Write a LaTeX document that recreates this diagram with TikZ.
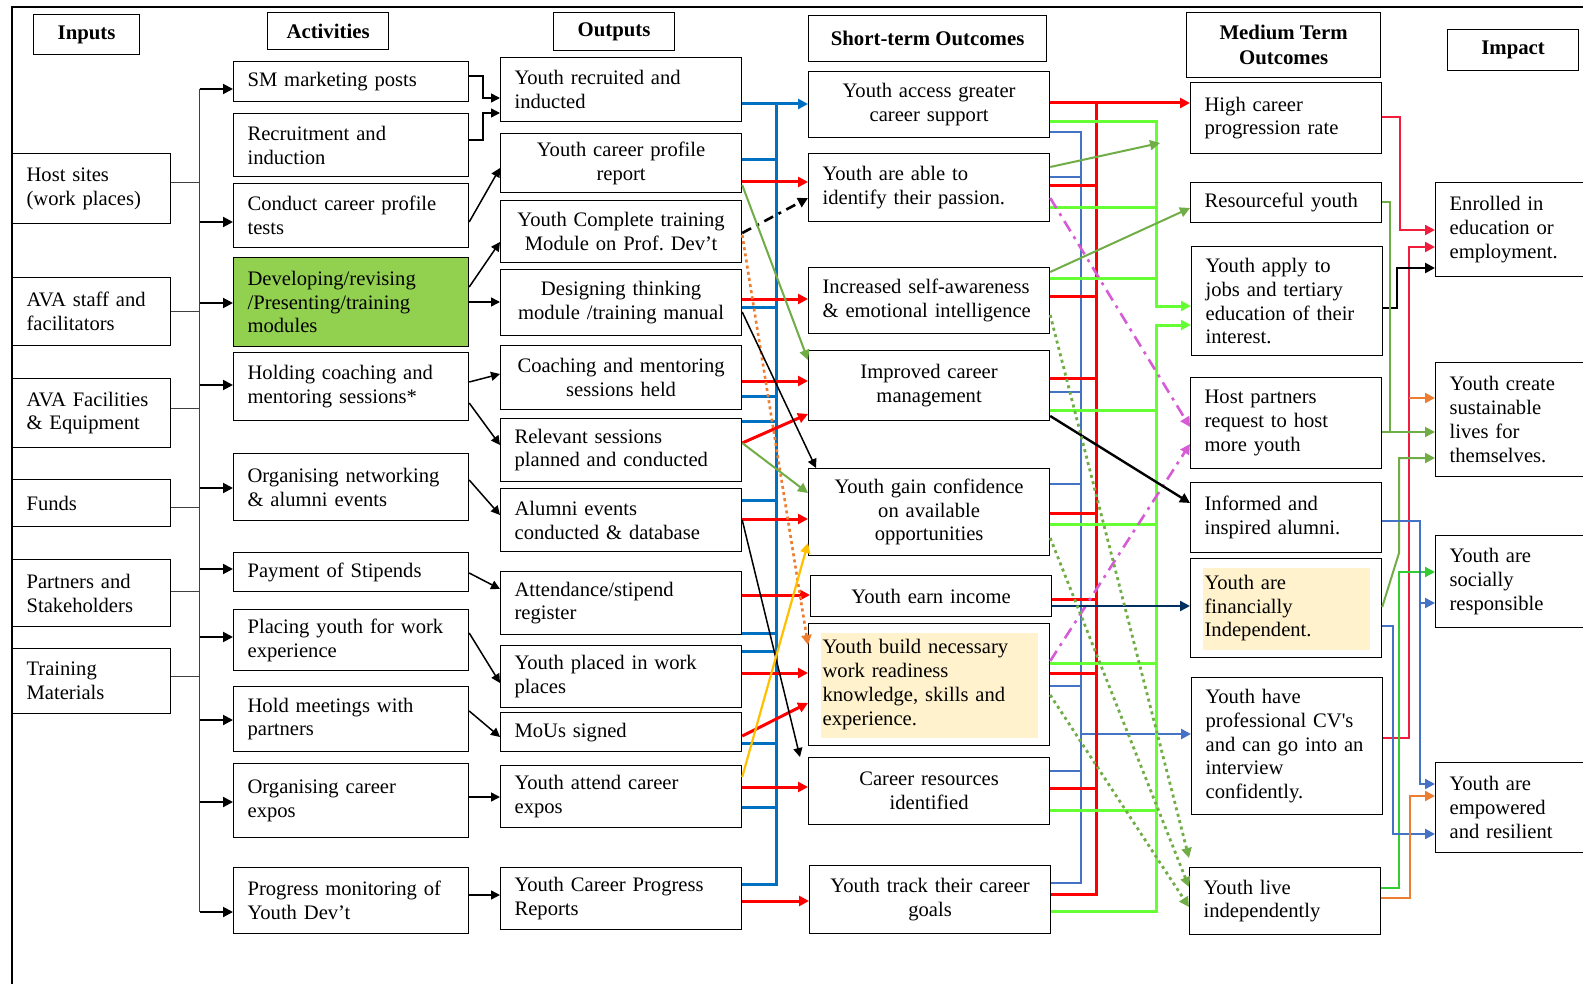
\documentclass[tikz,border=0pt]{standalone}
\usepackage{fontspec}
\setmainfont{Liberation Serif}
\usetikzlibrary{arrows.meta}
\definecolor{busblue}{RGB}{0,112,192}
\definecolor{lnblue}{RGB}{68,114,196}
\definecolor{lnred}{RGB}{255,0,0}
\definecolor{crimsonln}{RGB}{240,30,60}
\definecolor{limeln}{RGB}{102,255,51}
\definecolor{oliveln}{RGB}{112,173,71}
\definecolor{midgreen}{RGB}{51,204,51}
\definecolor{orangeln}{RGB}{237,125,49}
\definecolor{goldln}{RGB}{255,192,0}
\definecolor{orchidln}{RGB}{214,92,214}
\definecolor{navyln}{RGB}{0,48,96}
\definecolor{leaf}{RGB}{146,208,80}
\definecolor{cream}{RGB}{255,242,204}
\frenchspacing

\begin{document}
\begin{tikzpicture}[x=0.5pt,y=-0.5pt,line join=miter,
  >={Triangle[length=5pt,width=5pt]},
  every node/.style={font=\fontsize{10.3}{11.9}\selectfont},
  box/.style={draw,line width=0.6pt,anchor=north west,inner xsep=7pt,inner ysep=2pt,align=left},
  head/.style={draw,line width=0.6pt,anchor=north west,align=center,inner sep=1pt,font=\fontsize{10.4}{12.4}\selectfont\bfseries},
  inbox/.style={box,text width=65pt},
  actbox/.style={box,text width=103.5pt},
  outbox/.style={box,text width=106.5pt},
  stbox/.style={box,text width=106.5pt},
  mtbox/.style={box,text width=81.5pt},
  impbox/.style={box,text width=68.5pt},
  hl/.style={path picture={\fill[cream] ([shift={(12,9)}]path picture bounding box.north west) rectangle ([shift={(-12,-8)}]path picture bounding box.south east);}},
  feedline/.style={line width=0.5pt,black!75},
  feed/.style={->,line width=1pt},
  blk/.style={->,line width=0.75pt,>={Triangle[length=4.5pt,width=4.5pt]}},
  bus/.style={line width=1.5pt,busblue},
  rd/.style={line width=1.5pt,lnred},
  lb/.style={line width=1.3pt,lnblue},
  lg/.style={line width=1.5pt,limeln},
  ol/.style={line width=1pt,oliveln},
  gd/.style={->,line width=1.4pt,oliveln,dash pattern=on 1.5pt off 1.8pt},
  mg/.style={->,line width=1.3pt,orchidln,dash pattern=on 6pt off 3pt on 1.5pt off 3pt},
  cr/.style={line width=1.1pt,crimsonln},
  orl/.style={line width=1.1pt,orangeln}]
\useasboundingbox (0,0) rectangle (1583,984);
\draw[line width=1pt] (12,984) -- (12,7) -- (1583,7);

% headers
\node[head,minimum width=53pt,minimum height=20pt] (hin) at (33,14) {Inputs};
\node[head,minimum width=60.5pt,minimum height=18.5pt] (hact) at (267,12) {Activities};
\node[head,minimum width=60.5pt,minimum height=19pt] (hout) at (553,12) {Outputs};
\node[head,minimum width=119pt,minimum height=23pt] (hst) at (808,15) {Short-term Outcomes};
\node[head,minimum width=97pt,minimum height=32.5pt] (hmt) at (1186,12) {Medium Term\\Outcomes};
\node[head,minimum width=65.5pt,minimum height=20.5pt] (himp) at (1447,29) {Impact};

% inputs
\node[inbox,minimum height=35pt] (in1) at (12,153) {Host sites\\(work places)};
\node[inbox,minimum height=34pt] (in2) at (12,277) {AVA staff and\\facilitators};
\node[inbox,minimum height=34.5pt] (in3) at (12,378) {AVA Facilities\\\& Equipment};
\node[inbox,minimum height=23.5pt] (in4) at (12,479) {Funds};
\node[inbox,minimum height=33.5pt] (in5) at (12,559) {Partners and\\Stakeholders};
\node[inbox,minimum height=32.5pt] (in6) at (12,648) {Training\\Materials};

% activities
\node[actbox,minimum height=20pt] (a1) at (233,61) {SM marketing posts};
\node[actbox,minimum height=31.5pt] (a2) at (233,113) {Recruitment and\\induction};
\node[actbox,minimum height=32pt] (a3) at (233,183) {Conduct career profile\\tests};
\node[actbox,minimum height=44.5pt,fill=leaf] (a4) at (233,257) {Developing/revising\\/Presenting/training\\modules};
\node[actbox,minimum height=34pt] (a5) at (233,352) {Holding coaching and\\mentoring sessions*};
\node[actbox,minimum height=33.5pt] (a6) at (233,453) {Organising networking\\\& alumni events};
\node[actbox,minimum height=19.5pt] (a7) at (233,552) {Payment of Stipends};
\node[actbox,minimum height=30.5pt] (a8) at (233,609) {Placing youth for work\\experience};
\node[actbox,minimum height=32.5pt] (a9) at (233,686) {Hold meetings with\\partners};
\node[actbox,minimum height=37pt] (a10) at (233,763) {Organising career\\expos};
\node[actbox,minimum height=33pt] (a11) at (233,867) {Progress monitoring of\\Youth Dev’t};

% outputs
\node[outbox,minimum height=32pt] (o1) at (500,57) {Youth recruited and\\inducted};
\node[outbox,minimum height=29.5pt,align=center] (o2) at (500,133) {Youth career profile\\report};
\node[outbox,minimum height=31pt,align=center] (o3) at (500,200) {Youth Complete training\\Module on Prof. Dev’t};
\node[outbox,minimum height=33pt,align=center] (o4) at (500,269) {Designing thinking\\module /training manual};
\node[outbox,minimum height=32pt,align=center] (o5) at (500,345) {Coaching and mentoring\\sessions held};
\node[outbox,minimum height=31.5pt] (o6) at (500,418) {Relevant sessions\\planned and conducted};
\node[outbox,minimum height=31.5pt] (o7) at (500,488) {Alumni events\\conducted \& database};
\node[outbox,minimum height=31.5pt] (o8) at (500,571) {Attendance/stipend\\register};
\node[outbox,minimum height=31pt] (o9) at (500,645) {Youth placed in work\\places};
\node[outbox,minimum height=19.5pt] (o10) at (500,712) {MoUs signed};
\node[outbox,minimum height=31pt] (o11) at (500,765) {Youth attend career\\expos};
\node[outbox,minimum height=31pt] (o12) at (500,867) {Youth Career Progress\\Reports};

% short-term outcomes
\node[stbox,minimum height=33pt,align=center] (st1) at (808,71) {Youth access greater\\career support};
\node[stbox,minimum height=34pt] (st2) at (808,153) {Youth are able to\\identify their passion.};
\node[stbox,minimum height=33pt] (st3) at (808,267) {Increased self-awareness\\\& emotional intelligence};
\node[stbox,minimum height=35pt,align=center] (st4) at (808,350) {Improved career\\management};
\node[stbox,minimum height=43.5pt,align=center] (st5) at (808,468) {Youth gain confidence\\on available\\opportunities};
\node[stbox,minimum height=20.5pt,align=center] (st6) at (810,575) {Youth earn income};
\node[stbox,minimum height=61pt,hl] (st7) at (808,623) {Youth build necessary\\work readiness\\knowledge, skills and\\experience.};
\node[stbox,minimum height=33.5pt,align=center] (st8) at (808,757) {Career resources\\identified};
\node[stbox,minimum height=34pt,align=center] (st9) at (809,865) {Youth track their career\\goals};

% medium term outcomes
\node[mtbox,minimum height=35.5pt] (mt1) at (1190,82) {High career\\progression rate};
\node[mtbox,minimum height=20pt] (mt2) at (1190,182) {Resourceful youth};
\node[mtbox,minimum height=54.5pt] (mt3) at (1191,246) {Youth apply to\\jobs and tertiary\\education of their\\interest.};
\node[mtbox,minimum height=45.5pt] (mt4) at (1190,377) {Host partners\\request to host\\more youth};
\node[mtbox,minimum height=35pt] (mt5) at (1190,482) {Informed and\\inspired alumni.};
\node[mtbox,minimum height=49.5pt,hl] (mt6) at (1190,558) {Youth are\\financially\\Independent.};
\node[mtbox,minimum height=68.5pt] (mt7) at (1191,677) {Youth have\\professional CV\textquotesingle s\\and can go into an\\interview\\confidently.};
\node[mtbox,minimum height=33.5pt] (mt8) at (1189,867) {Youth live\\independently};

% impact
\node[impbox,minimum height=47pt] (im1) at (1435,182) {Enrolled in\\education or\\employment.};
\node[impbox,minimum height=57pt] (im2) at (1435,362) {Youth create\\sustainable\\lives for\\themselves.};
\node[impbox,minimum height=46pt] (im3) at (1435,535) {Youth are\\socially\\responsible};
\node[impbox,minimum height=45pt] (im4) at (1435,762) {Youth are\\empowered\\and resilient};

% inputs to activities
\coordinate (ibus) at (199.5,0);
\draw[feedline] (ibus |- 0,89) -- (ibus |- 0,912);
\foreach \n/\y in {in1/183,in2/311,in3/408,in4/507,in5/591,in6/676}
  \draw[feedline] (\n.east |- 0,\y) -- (ibus |- 0,\y);
\foreach \n/\y in {a1/89,a3/222,a4/303,a5/385,a6/488,a7/569,a8/637,a9/720,a10/802,a11/912}
  \draw[feed] (ibus |- 0,\y) -- (\n.west |- 0,\y);

% activities to outputs
\coordinate (jn) at (483,0);
\draw[blk] (a1.east |- 0,76) -| (jn |- 0,98) -- (o1.west |- 0,98);
\draw[blk] (a2.east |- 0,140) -| (jn |- 0,113) -- (o1.west |- 0,113);
\draw[blk] (a3.east |- 0,222) -- (o2.west |- 0,168);
\draw[blk] (a4.east |- 0,287) -- (o3.west |- 0,242);
\draw[blk] (a4.east |- 0,302) -- (o4.west |- 0,302);
\draw[blk] (a5.east |- 0,382) -- (o5.west |- 0,374);
\draw[blk] (a5.east |- 0,403) -- (o6.west |- 0,445);
\draw[blk] (a6.east |- 0,480) -- (o7.west |- 0,515);
\draw[blk] (a7.east |- 0,573) -- (o8.west |- 0,589);
\draw[blk] (a8.east |- 0,633) -- (o9.west |- 0,683);
\draw[blk] (a9.east |- 0,711) -- (o10.west |- 0,737);
\draw[blk] (a10.east |- 0,797) -- (o11.west |- 0,797);
\draw[blk] (a11.east |- 0,895) -- (o12.west |- 0,895);

% outputs to short-term outcomes
\coordinate (obus) at (776,0);
\draw[bus] (o12.east |- 0,884) -| (obus |- 0,104);
\foreach \n/\y in {o2/160,o4/307,o5/396,o6/421,o7/500,o8/633,o9/651,o10/743,o11/807}
  \draw[bus] (\n.east |- 0,\y) -- (obus |- 0,\y);
\draw[bus,->] (o1.east |- 0,104) -- (st1.west |- 0,104);
\foreach \a/\b/\y in {o2/st2/182,o4/st3/299,o5/st4/381,o7/st5/519,o8/st6/595,o9/st7/673,o11/st8/787,o12/st9/901}
  \draw[rd,->] (\a.east |- 0,\y) -- (\b.west |- 0,\y);
\draw[rd,->] (o6.east |- 0,443) -- (st4.west |- 0,414);
\draw[rd,->] (o10.east |- 0,736) -- (st7.west |- 0,703);
\draw[->,line width=1.3pt,dash pattern=on 5pt off 3pt on 1.5pt off 3pt] (o3.east |- 0,233) -- (st2.west |- 0,198);
\draw[->,line width=1.3pt,orangeln,dash pattern=on 1.5pt off 1.6pt] (o3.east |- 0,235) -- (st7.west |- 0,645);
\draw[ol,->] (o2.east |- 0,185) -- (st4.west |- 0,360);
\draw[ol,->] (o6.east |- 0,443) -- (st5.west |- 0,493);
\draw[blk] (o4.east |- 0,312) -- ([xshift=4pt]st5.north west);
\draw[blk] (o7.east |- 0,520) -- ([xshift=-4pt]st8.north west);
\draw[->,line width=1.1pt,goldln] (o11.east |- 0,777) -- (st5.west |- 0,543);

% short-term to medium term
\coordinate (bbus) at (1081,0);
\coordinate (rbus) at (1096,0);
\coordinate (gbus) at (1156,0);
\coordinate (mt1in) at (1160,143);
\draw[lb] (st1.east |- 0,132) -| (bbus |- 0,883) -- (st9.east |- 0,883);
\foreach \n/\y in {st2/177,st4/392,st5/484,st7/686,st8/771}
  \draw[lb] (\n.east |- 0,\y) -- (bbus |- 0,\y);
\draw[lb,->] (bbus |- 0,734) -- (mt7.west |- 0,734);
\draw[rd] (st9.east |- 0,894) -| (rbus |- 0,103);
\draw[rd,->] (st1.east |- 0,103) -- (mt1.west |- 0,103);
\foreach \n/\y in {st2/186,st3/296,st4/378,st5/513,st6/599,st7/673,st8/788}
  \draw[rd] (\n.east |- 0,\y) -- (rbus |- 0,\y);
\draw[lg,->] (st1.east |- 0,122) -| (gbus |- 0,306) -- (mt3.west |- 0,306);
\draw[lg,->] (st9.east |- 0,911) -| (gbus |- 0,325) -- (mt3.west |- 0,325);
\foreach \n/\y in {st2/208,st3/278,st4/410,st5/524,st7/663,st8/810}
  \draw[lg] (\n.east |- 0,\y) -- (gbus |- 0,\y);
\draw[ol,->] (st2.east |- 0,167) -- (mt1in);
\draw[ol,->] (st3.east |- 0,272) -- (mt2.west |- 0,208);
\draw[mg] (st2.east |- 0,198) -- (mt4.west |- 0,427);
\draw[mg] (st7.east |- 0,661) -- (mt4.west |- 0,444);
\draw[->,line width=1.2pt] (st4.east |- 0,416) -- (mt5.west |- 0,503);
\draw[->,line width=1.2pt,navyln] (st6.east |- 0,606) -- (mt6.west |- 0,606);
\draw[gd] (st3.east |- 0,315) -- (mt8.west |- 0,858);
\draw[gd] (st5.east |- 0,538) -- (mt8.west |- 0,887);
\draw[gd] (st7.east |- 0,695) -- (mt8.west |- 0,907);

% medium term to impact
\coordinate (xo) at (1390,0);
\coordinate (xb2) at (1393,0);
\coordinate (xk) at (1397,0);
\coordinate (xg) at (1399,0);
\coordinate (xr1) at (1400,0);
\coordinate (xr2) at (1409,0);
\coordinate (xor) at (1410,0);
\coordinate (xb1) at (1420,0);
\draw[cr,->] (mt1.east |- 0,117) -| (xr1 |- 0,230) -- (im1.west |- 0,230);
\draw[cr,->] (mt7.east |- 0,738) -| (xr2 |- 0,247) -- (im1.west |- 0,247);
\draw[->,line width=1.3pt] (mt3.east |- 0,308) -| (xk |- 0,268) -- (im1.west |- 0,268);
\draw[ol] (mt2.east |- 0,202) -| (xo |- 0,432);
\draw[ol,->] (mt4.east |- 0,432) -- (im2.west |- 0,432);
\draw[orl,->] (xr2 |- 0,398) -- (im2.west |- 0,398);
\draw[ol,->] (mt6.east |- 0,607) -- (xg |- 0,553) -- (xg |- 0,458) -- (im2.west |- 0,458);
\draw[->,line width=1.1pt,midgreen] (mt8.east |- 0,888) -| (xg |- 0,572) -- (im3.west |- 0,572);
\draw[lb,line width=1.1pt,->] (mt5.east |- 0,521) -| (xb1 |- 0,784) -- (im4.west |- 0,784);
\draw[lb,line width=1.1pt,->] (xb1 |- 0,603) -- (im3.west |- 0,603);
\draw[lb,line width=1.1pt,->] (mt6.east |- 0,626) -| (xb2 |- 0,834) -- (im4.west |- 0,834);
\draw[orl,->] (mt8.east |- 0,898) -| (xor |- 0,796) -- (im4.west |- 0,796);
\end{tikzpicture}
\end{document}
